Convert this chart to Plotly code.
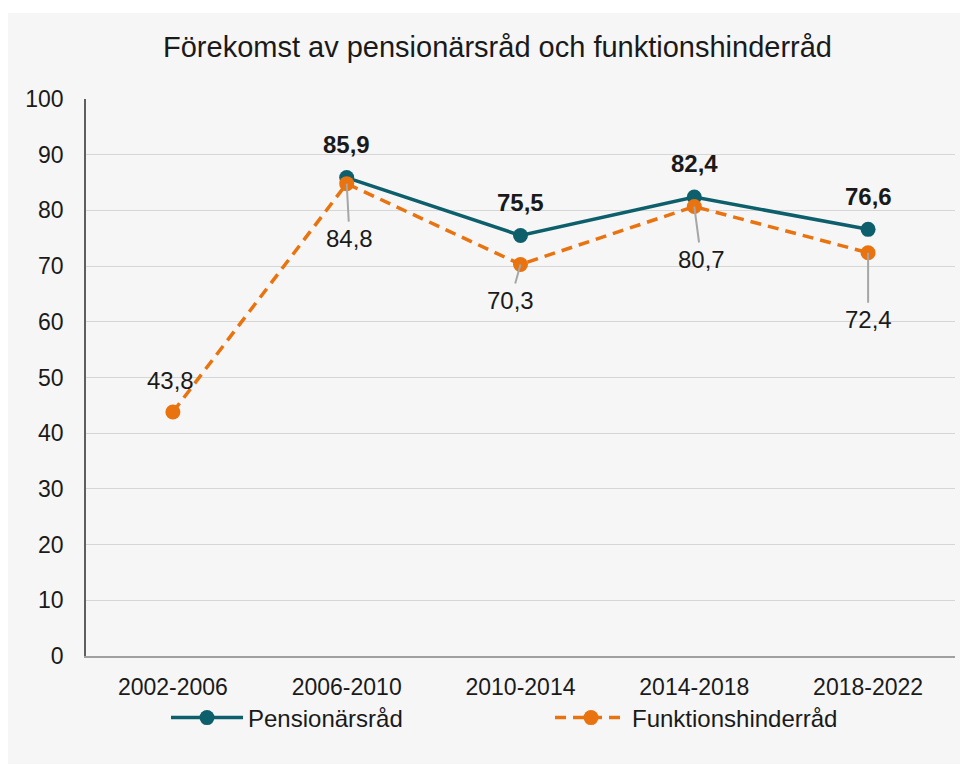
import plotly.graph_objects as go

categories = ["2002-2006", "2006-2010", "2010-2014", "2014-2018", "2018-2022"]
pension = [None, 85.9, 75.5, 82.4, 76.6]
funktion = [43.8, 84.8, 70.3, 80.7, 72.4]
y_ticks = [0, 10, 20, 30, 40, 50, 60, 70, 80, 90, 100]

title_text = "Förekomst av pensionärsråd och funktionshinderråd"
name_p = "Pensionärsråd"
name_f = "Funktionshinderråd"

TEAL = "#0E5F6C"
ORANGE = "#E8730F"
TXT = "#1a1a1a"
BG = "#f6f6f6"
FONT = "Liberation Sans, Arial, sans-serif"

W, H = 960, 756
L, R, T, B = 78, 13, 91, 108
PW, PH = W - L - R, H - T - B

# label offsets (pixels): (dx, dy[, leader line?])
p_off = [None, (0, -33), (0, -33), (0, -34), (0, -33)]
f_off = [(-2, -32, False), (3, 55, True), (-10, 36, True), (7, 53, True), (0, 67, True)]

fig = go.Figure()
fig.add_trace(go.Scatter(
    x=categories, y=pension, name=name_p, mode="lines+markers",
    line=dict(color=TEAL, width=3.5),
    marker=dict(color=TEAL, size=15),
    connectgaps=False,
))
fig.add_trace(go.Scatter(
    x=categories, y=funktion, name=name_f, mode="lines+markers",
    line=dict(color=ORANGE, width=3.5, dash="11px,7px"),
    marker=dict(color=ORANGE, size=15),
))

def fmt(v):
    return f"{v:.1f}".replace(".", ",")

annotations = []
for c, v, o in zip(categories, pension, p_off):
    if v is None:
        continue
    annotations.append(dict(
        x=c, y=v, xref="x", yref="y", text=f"<b>{fmt(v)}</b>",
        showarrow=False, xshift=o[0], yshift=-o[1],
        font=dict(family=FONT, size=24, color=TXT),
    ))
for c, v, o in zip(categories, funktion, f_off):
    if o[2]:
        annotations.append(dict(
            x=c, y=v, xref="x", yref="y", text=fmt(v),
            showarrow=True, arrowhead=0, arrowwidth=2, arrowcolor="#a6a6a6",
            ax=o[0], ay=o[1], standoff=0, borderpad=3,
            font=dict(family=FONT, size=24, color=TXT),
        ))
    else:
        annotations.append(dict(
            x=c, y=v, xref="x", yref="y", text=fmt(v),
            showarrow=False, xshift=o[0], yshift=-o[1],
            font=dict(family=FONT, size=24, color=TXT),
        ))

fig.update_layout(
    width=W, height=H,
    margin=dict(l=L, r=R, t=T, b=B, autoexpand=False),
    paper_bgcolor="white",
    plot_bgcolor=BG,
    font=dict(family=FONT, color=TXT, size=23),
    title=dict(text=title_text, x=489.5 / W, xanchor="center",
               y=1 - 39 / H, yanchor="middle",
               font=dict(family=FONT, size=29, color=TXT)),
    shapes=[dict(type="rect", xref="paper", yref="paper",
                 x0=(0 - L) / PW, x1=(W - L) / PW,
                 y0=-B / PH, y1=(H - B - 5) / PH,
                 fillcolor=BG, line=dict(width=0), layer="below")],
    annotations=annotations,
    showlegend=True,
    legend=dict(orientation="h", x=80 / PW, xanchor="left",
                y=-62 / PH, yanchor="middle",
                bgcolor="rgba(0,0,0,0)",
                itemwidth=72, entrywidth=297, entrywidthmode="pixels",
                font=dict(family=FONT, size=24, color=TXT),
                traceorder="normal"),
    xaxis=dict(type="category", range=[-0.5, 4.5], showgrid=False,
               showline=True, linecolor="#a0a0a0", linewidth=1.5,
               ticks="", tickfont=dict(size=23), ticklabelstandoff=10),
    yaxis=dict(range=[0, 100], tickvals=y_ticks, showgrid=True,
               gridcolor="#d6d6d6", gridwidth=1,
               showline=True, linecolor="#5f5f5f", linewidth=1.5,
               zeroline=False, ticks="", tickfont=dict(size=23),
               ticklabelstandoff=16),
)

fig.write_html("out.html")
